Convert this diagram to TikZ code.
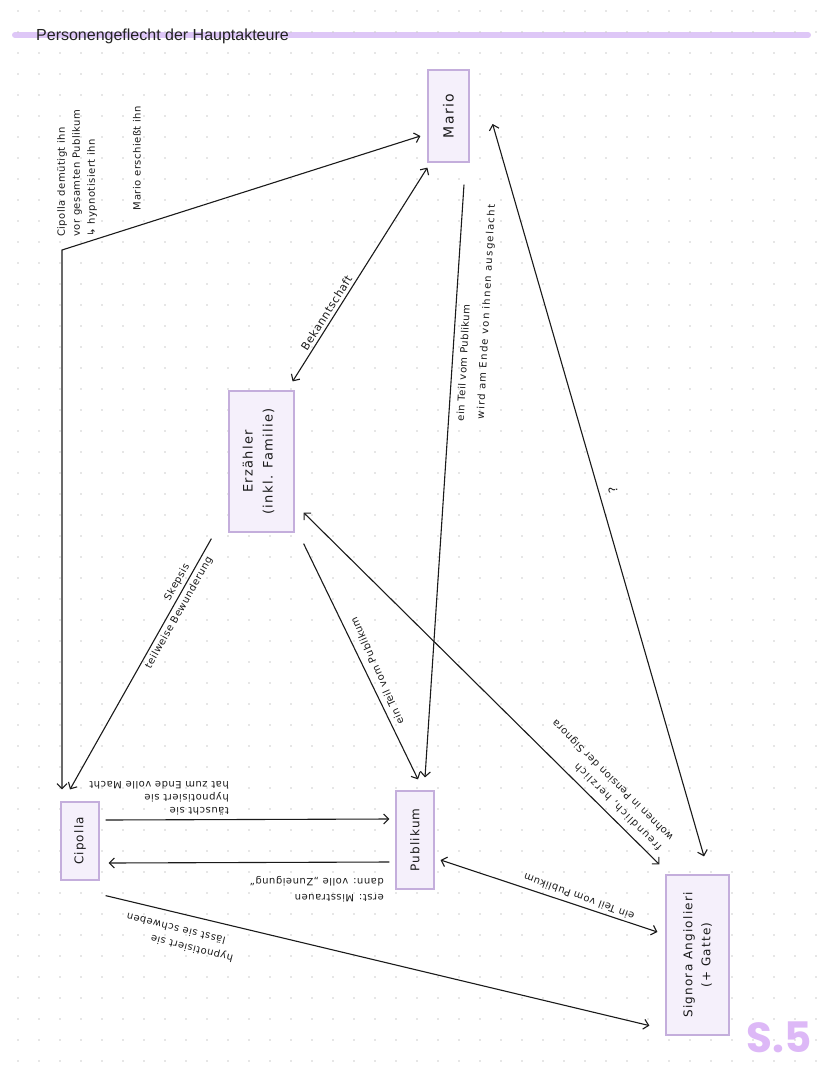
\documentclass[tikz,border=0pt]{standalone}
\usepackage{fontspec}
\setmainfont{DejaVu Sans}
\newfontfamily\titlefont{Liberation Sans}
\newfontfamily\hand[LetterSpace=5]{DejaVu Sans}
\newfontfamily\handwide[LetterSpace=13]{DejaVu Sans}
\newfontfamily\handbox[LetterSpace=10]{DejaVu Sans}
\newfontfamily\pagefont{Poppins}
\usetikzlibrary{arrows.meta,calc}
\definecolor{boxfill}{HTML}{F5F0FB}
\definecolor{boxline}{HTML}{C4AEDC}
\definecolor{hl}{HTML}{DEC7F7}
\definecolor{dotc}{HTML}{CDCDCD}
\definecolor{pagec}{HTML}{DDB8F7}
\definecolor{ink}{HTML}{1A1A1A}
\definecolor{titlec}{HTML}{222222}
\tikzset{
  box/.style={draw=boxline, fill=boxfill, line width=1.2pt, inner sep=0pt},
  boxtext/.style={font=\handbox\fontsize{12}{19}\selectfont, text=ink, align=center, inner sep=0pt},
  lbl/.style={font=\hand\fontsize{10}{13}\selectfont, text=ink, inner sep=0pt},
  wlbl/.style={font=\handwide\fontsize{10}{13}\selectfont, text=ink, inner sep=0pt},
  conn/.style={draw=ink, line width=1.1pt, >={Straight Barb[length=5pt,width=10pt]}},
}
\begin{document}
\begin{tikzpicture}[x=1pt,y=-1pt]
\fill[white] (0,0) rectangle (828,1069);
\useasboundingbox (0,0) rectangle (828,1069);
% title highlight
\draw[hl, line width=6pt, line cap=round] (15,35) -- (808,35);
% dot grid
\foreach \x in {18,39,...,816} {
  \foreach \y in {11,32,...,1061} {
    \fill[dotc] (\x,\y) circle (0.9pt);
  }
}
\node[anchor=base west, inner sep=0pt, text=titlec, font=\titlefont\fontsize{16}{16}\selectfont] (title) at (36,40) {Personengeflecht der Hauptakteure};

% boxes
\node[box, minimum width=41pt, minimum height=92pt] (mario) at (448.5,116) {};
\node[boxtext, rotate=90, font=\handbox\fontsize{14}{19}\selectfont] (mariot) at (mario.center) {Mario};
\node[box, minimum width=65pt, minimum height=141pt] (erz) at (261.5,461.5) {};
\node[boxtext, rotate=90, font=\handbox\fontsize{13}{20}\selectfont] (erzt) at ($(erz.center)+(-3,0)$) {Erzähler\\(inkl. Familie)};
\node[box, minimum width=38pt, minimum height=78pt] (cipolla) at (80,841) {};
\node[boxtext, rotate=90] (cipollat) at (cipolla.center) {Cipolla};
\node[box, minimum width=38pt, minimum height=98pt] (publikum) at (415,840) {};
\node[boxtext, rotate=90] (publikumt) at (publikum.center) {Publikum};
\node[box, minimum width=63pt, minimum height=160pt] (signora) at (697.5,955) {};
\node[boxtext, rotate=90, font=\handbox\fontsize{12}{18}\selectfont] (signorat) at (signora.center) {Signora Angiolieri\\(+ Gatte)};

% Cipolla <-> Mario
\coordinate (knee) at (62,250);
\draw[conn,<->] ($(mario.west)+(-7,20)$) -- (knee) -- ($(cipolla.north)+(-18,-12)$);
\node[lbl, rotate=90, align=left, anchor=north west, font=\hand\fontsize{10}{15}\selectfont] (l1) at (57,237) {Cipolla demütigt ihn\\vor gesamten Publikum\\↳ hypnotisiert ihn};
\node[lbl, rotate=90] (l2) at (137,158) {Mario erschießt ihn};

% Erzaehler <-> Mario
\draw[conn,<->] ($(erz.north east)+(-2,-9)$) -- ($(mario.south west)+(0,5)$)
  node[lbl, pos=0.3, sloped, above=3pt, font=\hand\fontsize{11}{13}\selectfont] (l3) {Bekanntschaft};

% Mario -> Publikum
\draw[conn,->] ($(mario.south)+(15.5,22)$) -- ($(publikum.north)+(10,-13)$);
\node[lbl, rotate=87, anchor=north west] (l4a) at (456,421) {ein Teil vom Publikum};
\node[wlbl, rotate=87, anchor=north west] (l4b) at (476,419) {wird am Ende von ihnen ausgelacht};

% Mario <-> Signora
\draw[conn,<->] ($(mario.east)+(23,8)$) -- ($(signora.north)+(6.5,-18)$);
\node[lbl, rotate=100, font=\hand\fontsize{12}{13}\selectfont] (l5) at (613,490) {?};

% Erzaehler -> Cipolla
\draw[conn,<-] ($(cipolla.north)+(-10,-12)$) -- ($(erz.south west)+(-17,6)$)
  node[lbl, pos=0.81, sloped, above=3pt] (l6) {Skepsis}
  node[lbl, pos=0.72, sloped, below=3pt] (l7) {teilweise Bewunderung};

% Erzaehler -> Publikum
\draw[conn,->] ($(erz.south east)+(9,11)$) -- ($(publikum.north)+(3,-11)$);
\node[lbl, rotate=114] (l8) at (377,671) {ein Teil vom Publikum};

% Erzaehler <-> Signora
\draw[conn,<->] ($(erz.south east)+(9,-20)$) -- ($(signora.north west)+(-6,-10)$);
\node[wlbl, rotate=135] (l9a) at (618,807) {freundlich, herzlich};
\node[lbl, rotate=135] (l9b) at (613,780) {wohnen in Pension der Signora};

% Publikum <-> Signora
\draw[conn,<->] ($(publikum.east)+(6,20)$) -- ($(signora.west)+(-8,-23)$);
\node[lbl, rotate=160] (l10) at (579,897) {ein Teil vom Publikum};

% Cipolla -> Publikum
\draw[conn,->] ($(cipolla.east)+(6,-21)$) -- ($(publikum.west)+(-6,-21)$);
\node[lbl, rotate=180, align=left, anchor=north west] (l11) at (229,815) {täuscht sie\\hypnotisiert sie\\hat zum Ende volle Macht};

% Publikum -> Cipolla
\draw[conn,->] ($(publikum.west)+(-6,22)$) -- ($(cipolla.east)+(9,22)$);
\node[lbl, rotate=180, align=left, anchor=north west, font=\hand\fontsize{10}{16}\selectfont] (l12) at (384,902) {erst: Misstrauen\\dann: volle „Zuneigung“};

% Cipolla -> Signora
\draw[conn,->] ($(cipolla.south east)+(6,15)$) -- ($(signora.south west)+(-16,-10)$);
\node[lbl, rotate=166] (l13) at (192,948) {hypnotisiert sie};
\node[lbl, rotate=166] (l14) at (176,929) {lässt sie schweben};

% page number
\node[anchor=base east, inner sep=0pt, text=pagec, font=\pagefont\bfseries\fontsize{42}{42}\selectfont] (page) at (812,1052) {S.5};
\end{tikzpicture}
\end{document}
